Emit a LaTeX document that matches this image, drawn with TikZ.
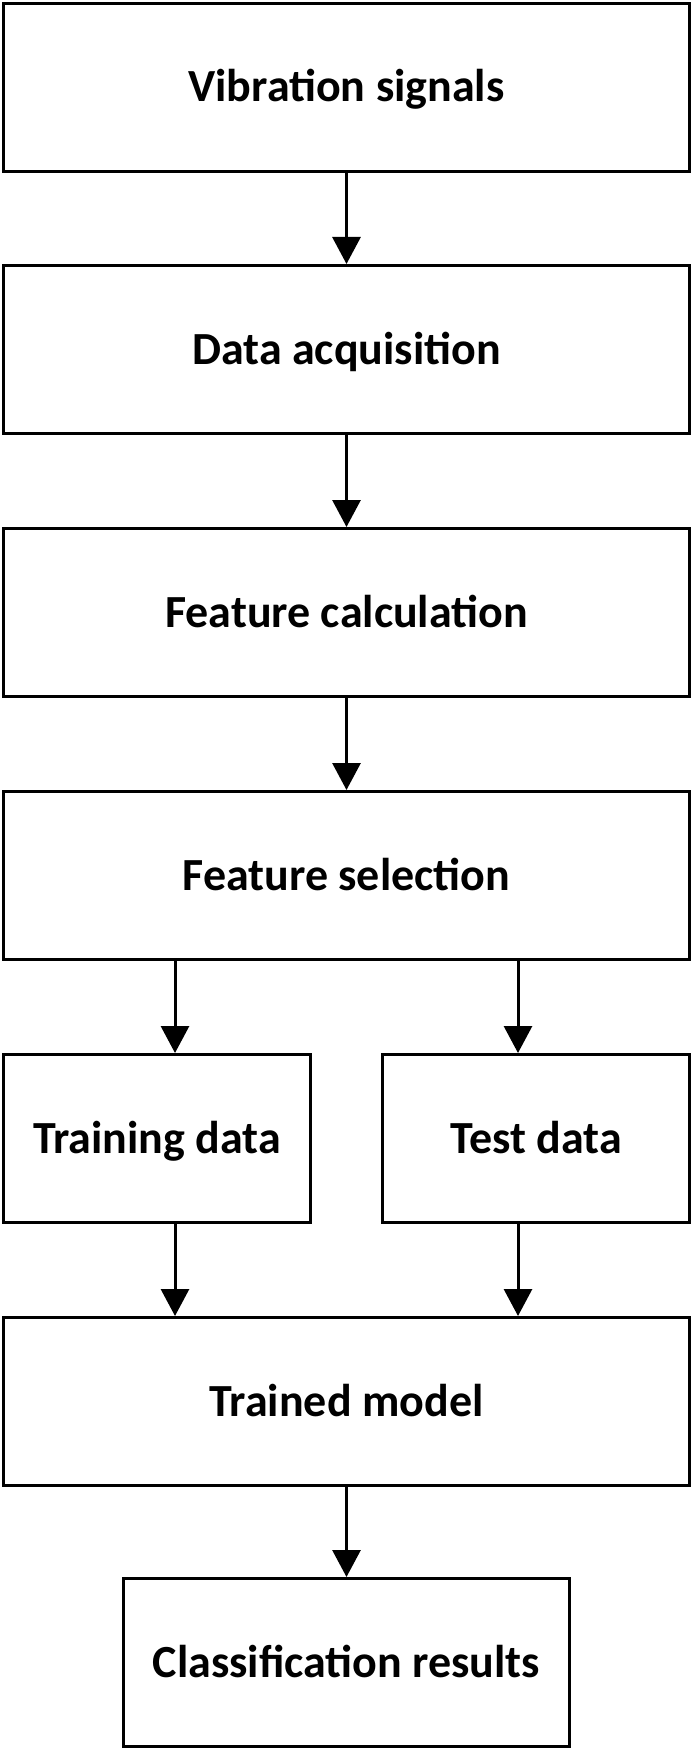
\documentclass[tikz,border=0pt]{standalone}
\usepackage{fontspec}
\setmainfont{Carlito}
\usetikzlibrary{arrows.meta}
\tikzset{
  stage/.style={draw,line width=3pt,inner sep=0pt,minimum height=168pt,
    text height=29pt,text depth=0pt,font=\bfseries\fontsize{46}{55}\selectfont},
  flow/.style={line width=3pt,-{Triangle[width=28pt,length=27pt]}}
}

\begin{document}
\begin{tikzpicture}[x=1pt,y=-1pt,line join=miter]
\useasboundingbox (0,0) rectangle (693,1752);

% main chain
\node[stage,minimum width=686pt] (vib) at (346.5,87.5) {Vibration signals};
\node[stage,minimum width=686pt] (acq) at (346.5,349.5) {Data acquisition};
\node[stage,minimum width=686pt] (calc) at (346.5,612.5) {Feature calculation};
\node[stage,minimum width=686pt] (sel) at (346.5,875.5) {Feature selection};

% split
\node[stage,minimum width=307pt] (train) at (157,1138.5) {Training data};
\node[stage,minimum width=307pt] (test) at (536,1138.5) {Test data};

\node[stage,minimum width=686pt] (model) at (346.5,1401.5) {Trained model};
\node[stage,minimum width=446pt] (res) at (346.5,1662.5) {Classification results};

\coordinate (lft) at (175,0);
\coordinate (rgt) at (518,0);

\draw[flow] (vib) -- (acq);
\draw[flow] (acq) -- (calc);
\draw[flow] (calc) -- (sel);
\draw[flow] (sel.south -| lft) -- (train.north -| lft);
\draw[flow] (sel.south -| rgt) -- (test.north -| rgt);
\draw[flow] (train.south -| lft) -- (model.north -| lft);
\draw[flow] (test.south -| rgt) -- (model.north -| rgt);
\draw[flow] (model) -- (res);
\end{tikzpicture}
\end{document}
